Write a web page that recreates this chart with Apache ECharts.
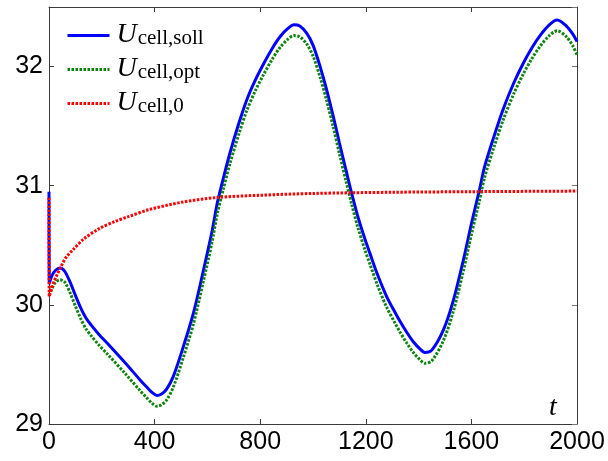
<!DOCTYPE html>
<html>
<head>
<meta charset="utf-8">
<script src="https://cdn.jsdelivr.net/npm/echarts@6/dist/echarts.min.js"></script>
<style>
html,body{margin:0;padding:0;background:#fff;}
#chart{width:608px;height:461px;}
</style>
</head>
<body>
<div id="chart"></div>
<script>
// ---- data ----
const xTicks = [0, 400, 800, 1200, 1600, 2000];
const yTicks = [29, 30, 31, 32];

const tMain = [0,1,10,25,42,60,80,100,120,140,160,190,220,290,345,370,390,408,425,445,471,509,547,585,616,638,660,686,720,749,780,812,845,875,905,928,950,976,1000,1027,1050,1077,1100,1125,1146,1170,1197,1216,1245,1279,1310,1330,1355,1380,1405,1424,1450,1494,1532,1570,1601,1629,1650,1685,1720,1760,1797,1830,1860,1895,1925,1960,1985,2000];

const uSoll = [30.95,30.18,30.24,30.29,30.31,30.28,30.19,30.08,29.975,29.89,29.83,29.75,29.68,29.51,29.37,29.31,29.265,29.24,29.25,29.29,29.40,29.65,29.93,30.29,30.6,30.86,31.06,31.28,31.53,31.72,31.88,32.02,32.15,32.25,32.32,32.35,32.34,32.28,32.18,32.0,31.82,31.58,31.36,31.13,30.94,30.74,30.55,30.43,30.25,30.07,29.94,29.86,29.77,29.69,29.63,29.6,29.62,29.79,30.04,30.38,30.69,30.95,31.16,31.41,31.64,31.86,32.03,32.16,32.26,32.35,32.39,32.34,32.27,32.21];

const uOpt = [30.08,30.08,30.13,30.19,30.21,30.19,30.1,29.99,29.885,29.8,29.74,29.66,29.59,29.42,29.28,29.22,29.175,29.15,29.16,29.2,29.31,29.56,29.84,30.2,30.51,30.77,30.97,31.19,31.44,31.63,31.79,31.93,32.06,32.16,32.23,32.26,32.25,32.19,32.09,31.91,31.73,31.49,31.27,31.04,30.85,30.65,30.46,30.34,30.16,29.98,29.85,29.77,29.68,29.6,29.54,29.51,29.53,29.7,29.95,30.29,30.6,30.86,31.07,31.32,31.55,31.77,31.94,32.07,32.17,32.26,32.3,32.25,32.17,32.1];

const tZero = [0,1,10,20,30,45,65,90,130,190,250,300,380,500,630,800,1000,1300,1600,2000];
const uZero = [30.9,30.07,30.14,30.2,30.25,30.32,30.4,30.46,30.55,30.64,30.7,30.74,30.8,30.86,30.9,30.92,30.935,30.945,30.95,30.955];

const seriesNames = ['cell,soll', 'cell,opt', 'cell,0'];

// ---- build ----
function pairs(t, v) { return t.map((x, i) => [x, v[i]]); }

const chart = echarts.init(document.getElementById('chart'), null, {renderer: 'canvas'});

const axisColor = '#3a3a3a';
const labelFont = {fontFamily: 'Liberation Sans, Arial, sans-serif', fontSize: 25, color: '#000'};

const option = {
  animation: false,
  backgroundColor: '#fff',
  grid: {left: 49, right: 31, top: 7, bottom: 37, containLabel: false},
  xAxis: [
    {
      type: 'value', min: 0, max: 2000, interval: 400, position: 'bottom',
      axisLine: {show: true, onZero: false, lineStyle: {color: axisColor, width: 1}},
      axisTick: {show: true, inside: true, length: 5, lineStyle: {color: axisColor}},
      axisLabel: Object.assign({margin: 6, formatter: v => String(v)}, labelFont),
      splitLine: {show: false}
    },
    {
      type: 'value', min: 0, max: 2000, interval: 400, position: 'top',
      axisLine: {show: true, onZero: false, lineStyle: {color: axisColor, width: 1}},
      axisTick: {show: true, inside: true, length: 5, lineStyle: {color: axisColor}},
      axisLabel: {show: false},
      splitLine: {show: false}
    }
  ],
  yAxis: [
    {
      type: 'value', min: 29, max: 32.5, interval: 1, position: 'left',
      axisLine: {show: true, onZero: false, lineStyle: {color: axisColor, width: 1}},
      axisTick: {show: true, inside: true, length: 5, lineStyle: {color: axisColor}},
      axisLabel: Object.assign({margin: 6, formatter: v => (yTicks.indexOf(v) >= 0 ? String(v) : '')}, labelFont),
      splitLine: {show: false}
    },
    {
      type: 'value', min: 29, max: 32.5, interval: 1, position: 'right',
      axisLine: {show: true, onZero: false, lineStyle: {color: axisColor, width: 1}},
      axisTick: {show: true, inside: true, length: 5, lineStyle: {color: '#777'}},
      axisLabel: {show: false},
      splitLine: {show: false}
    }
  ],
  legend: {
    orient: 'vertical', left: 66, top: 21, padding: 0, itemGap: 6,
    itemWidth: 42, itemHeight: 14,
    itemStyle: {opacity: 0},
    lineStyle: {width: 3},
    data: seriesNames,
    formatter: name => '{u|U}{s|' + name + '}',
    textStyle: {
      color: '#000',
      rich: {
        u: {fontFamily: 'Liberation Serif, serif', fontStyle: 'italic', fontSize: 28, lineHeight: 27, verticalAlign: 'bottom', padding: [0,0,0,2]},
        s: {fontFamily: 'Liberation Serif, serif', fontSize: 21, lineHeight: 21, verticalAlign: 'bottom', padding: [0,0,0,1]}
      }
    }
  },
  graphic: [{
    type: 'text', left: 549, top: 394,
    style: {text: 't', font: 'italic 28px "Liberation Serif", serif', fill: '#000'}
  }],
  series: [
    {
      name: seriesNames[0], type: 'line', data: pairs(tMain, uSoll),
      showSymbol: false, symbol: 'none', smooth: 0.3,
      lineStyle: {color: '#0000ff', width: 3},
      itemStyle: {color: '#0000ff'}
    },
    {
      name: seriesNames[1], type: 'line', data: pairs(tMain, uOpt),
      showSymbol: false, symbol: 'none', smooth: 0.3,
      lineStyle: {color: '#0a840a', width: 3, type: [2.5, 1.5]},
      itemStyle: {color: '#0a840a'}
    },
    {
      name: seriesNames[2], type: 'line', data: pairs(tZero, uZero),
      showSymbol: false, symbol: 'none', smooth: 0.3,
      lineStyle: {color: '#ff0000', width: 3, type: [2.5, 1.5]},
      itemStyle: {color: '#ff0000'}
    }
  ]
};
chart.setOption(option);
</script>
</body>
</html>
